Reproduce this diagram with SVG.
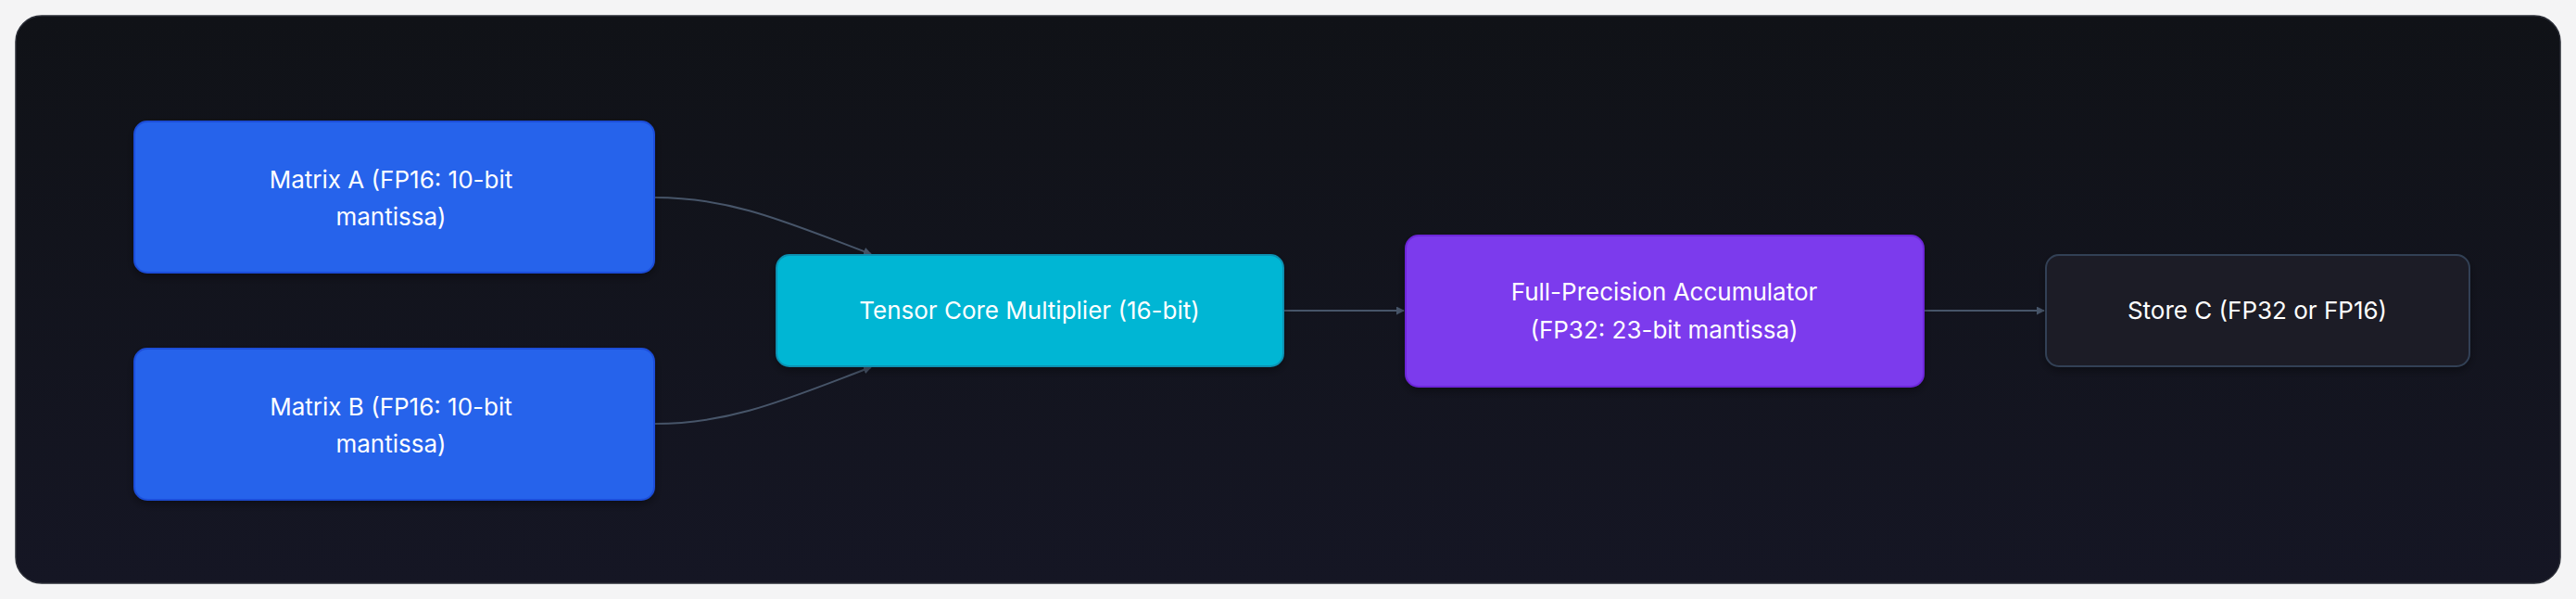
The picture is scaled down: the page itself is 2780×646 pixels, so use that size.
<svg xmlns="http://www.w3.org/2000/svg" width="2780" height="646" viewBox="0 0 2780 646">
<style>
.t{font-family:Inter,"Liberation Sans",sans-serif;font-size:26px;fill:#ffffff;text-anchor:middle}
.e{fill:none;stroke:#475569;stroke-width:2}
</style>
<defs>
<linearGradient id="bg" x1="0" y1="0" x2="0" y2="1"><stop offset="0" stop-color="#101217"/><stop offset="1" stop-color="#151624"/></linearGradient>
<marker id="a" viewBox="0 0 10 10" refX="9" refY="5" markerWidth="9" markerHeight="9" markerUnits="userSpaceOnUse" orient="auto"><path d="M0,0L10,5L0,10z" fill="#475569"/></marker>
<filter id="s" x="-10%" y="-10%" width="120%" height="130%"><feDropShadow dx="0" dy="4" stdDeviation="5" flood-opacity="0.35"/></filter>
</defs>
<rect width="2780" height="646" fill="#f4f4f5"/>
<rect x="17" y="17" width="2746" height="612" rx="28" fill="url(#bg)" stroke="#2a2d36" stroke-width="1.5"/>
<g id="connectors">
<path class="e" d="M707,213 C790,213 850,240 940,274" marker-end="url(#a)"/>
<path class="e" d="M707,457 C790,457 850,430 940,396" marker-end="url(#a)"/>
<path class="e" d="M1386,335 L1515,335" marker-end="url(#a)"/>
<path class="e" d="M2077,335 L2206,335" marker-end="url(#a)"/>
</g>
<g id="matrixA"><rect x="145" y="131" width="561" height="163" rx="14" fill="#2563eb" stroke="#1d4ed8" stroke-width="2" filter="url(#s)"/>
<text class="t" x="422" y="203">Matrix A (FP16: 10-bit</text><text class="t" x="422" y="243">mantissa)</text></g>
<g id="matrixB"><rect x="145" y="376" width="561" height="163" rx="14" fill="#2563eb" stroke="#1d4ed8" stroke-width="2" filter="url(#s)"/>
<text class="t" x="422" y="448">Matrix B (FP16: 10-bit</text><text class="t" x="422" y="488">mantissa)</text></g>
<g id="tensor"><rect x="838" y="275" width="547" height="120" rx="14" fill="#06b6d4" stroke="#0891b2" stroke-width="2" filter="url(#s)"/>
<text class="t" x="1111" y="344">Tensor Core Multiplier (16-bit)</text></g>
<g id="accumulator"><rect x="1517" y="254" width="559" height="163" rx="14" fill="#7c3aed" stroke="#6d28d9" stroke-width="2" filter="url(#s)"/>
<text class="t" x="1796" y="324">Full-Precision Accumulator</text><text class="t" x="1796" y="365">(FP32: 23-bit mantissa)</text></g>
<g id="store"><rect x="2208" y="275" width="457" height="120" rx="14" fill="#1b1c27" stroke="#334155" stroke-width="2" filter="url(#s)"/>
<text class="t" x="2436" y="344">Store C (FP32 or FP16)</text></g>
</svg>
